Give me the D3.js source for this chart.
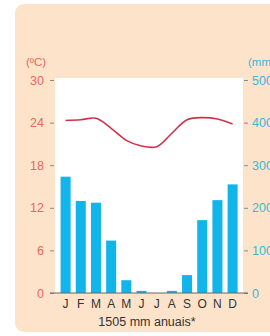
<!DOCTYPE html>
<html>
<head>
<meta charset="utf-8">
<script src="https://cdn.jsdelivr.net/npm/d3@7"></script>
<style>
  html, body { margin: 0; padding: 0; background: #fff; }
  svg { display: block; font-family: "Liberation Sans", Arial, sans-serif; }
</style>
</head>
<body>
<div id="chart"></div>
<script>
const months = ['J', 'F', 'M', 'A', 'M', 'J', 'J', 'A', 'S', 'O', 'N', 'D'];
const precip = [273, 216, 212, 123, 30, 5, 0, 5, 42, 171, 218, 255];
const temp = [24.3, 24.4, 24.6, 23.2, 21.5, 20.7, 20.6, 22.5, 24.4, 24.7, 24.5, 23.8];
const tempTicks = [0, 6, 12, 18, 24, 30];
const precipTicks = [0, 100, 200, 300, 400, 500];
const caption = '1505 mm anuais*';

const width = 270, height = 336;
const plot = { left: 55, right: 243, top: 78, bottom: 293 };
const font = '"Liberation Sans", Arial, sans-serif';

const svg = d3.select('#chart').append('svg')
    .attr('width', width)
    .attr('height', height);

// Panel background
svg.append('rect')
    .attr('x', 15).attr('y', 4)
    .attr('width', 270).attr('height', 328)
    .attr('rx', 9)
    .attr('fill', '#fde3c9');

// White plot area
svg.append('rect')
    .attr('x', plot.left).attr('y', plot.top)
    .attr('width', plot.right - plot.left)
    .attr('height', plot.bottom - plot.top)
    .attr('fill', '#fff');

const x = d3.scaleBand()
    .domain(d3.range(months.length))
    .range([58, 240.2])
    .paddingInner(0.34)
    .paddingOuter(0.17);

const yT = d3.scaleLinear().domain([0, 30]).range([293, 80]);
const yP = d3.scaleLinear().domain([0, 500]).range([293, 80]);

// Bars
svg.append('g').selectAll('rect')
    .data(precip)
    .join('rect')
    .attr('x', (d, i) => x(i))
    .attr('y', d => yP(d))
    .attr('width', x.bandwidth())
    .attr('height', d => yP(0) - yP(d))
    .attr('fill', '#12b5ea');

// Temperature line
const line = d3.line()
    .x((d, i) => x(i) + x.bandwidth() / 2)
    .y(d => yT(d))
    .curve(d3.curveCatmullRom.alpha(0.5));

svg.append('path')
    .datum(temp)
    .attr('d', line)
    .attr('fill', 'none')
    .attr('stroke', '#d5304a')
    .attr('stroke-width', 1.6);

// Left axis (temperature)
const leftAxis = svg.append('g')
    .attr('transform', `translate(${plot.left - 1},0)`)
    .call(d3.axisLeft(yT).tickValues(tempTicks).tickSize(4).tickPadding(6));
leftAxis.select('.domain').remove();
leftAxis.selectAll('line').attr('stroke', '#888');
leftAxis.selectAll('text')
    .attr('fill', '#e8675f')
    .attr('font-size', 12.5)
    .attr('font-family', font);

// Right axis (precipitation)
const rightAxis = svg.append('g')
    .attr('transform', `translate(${plot.right + 1},0)`)
    .call(d3.axisRight(yP).tickValues(precipTicks).tickSize(4).tickPadding(4));
rightAxis.select('.domain').remove();
rightAxis.selectAll('line').attr('stroke', '#888');
rightAxis.selectAll('text')
    .attr('fill', '#3ab7d8')
    .attr('font-size', 12.5)
    .attr('font-family', font);

// Baseline
svg.append('line')
    .attr('x1', 50).attr('x2', 248)
    .attr('y1', yT(0)).attr('y2', yT(0))
    .attr('stroke', '#666')
    .attr('stroke-width', 1);

// Unit labels
svg.append('text')
    .attr('x', 26).attr('y', 66)
    .attr('font-size', 11.5)
    .attr('fill', '#e8675f')
    .text('(ºC)');
svg.append('text')
    .attr('x', 248).attr('y', 66)
    .attr('font-size', 11.5)
    .attr('fill', '#3ab7d8')
    .text('(mm)');

// Month labels
svg.append('g').selectAll('text')
    .data(months)
    .join('text')
    .attr('x', (d, i) => x(i) + x.bandwidth() / 2)
    .attr('y', 308)
    .attr('text-anchor', 'middle')
    .attr('font-size', 12)
    .attr('fill', '#333')
    .text(d => d);

// Caption
svg.append('text')
    .attr('x', 147).attr('y', 326)
    .attr('text-anchor', 'middle')
    .attr('font-size', 12.5)
    .attr('fill', '#333')
    .text(caption);
</script>
</body>
</html>
